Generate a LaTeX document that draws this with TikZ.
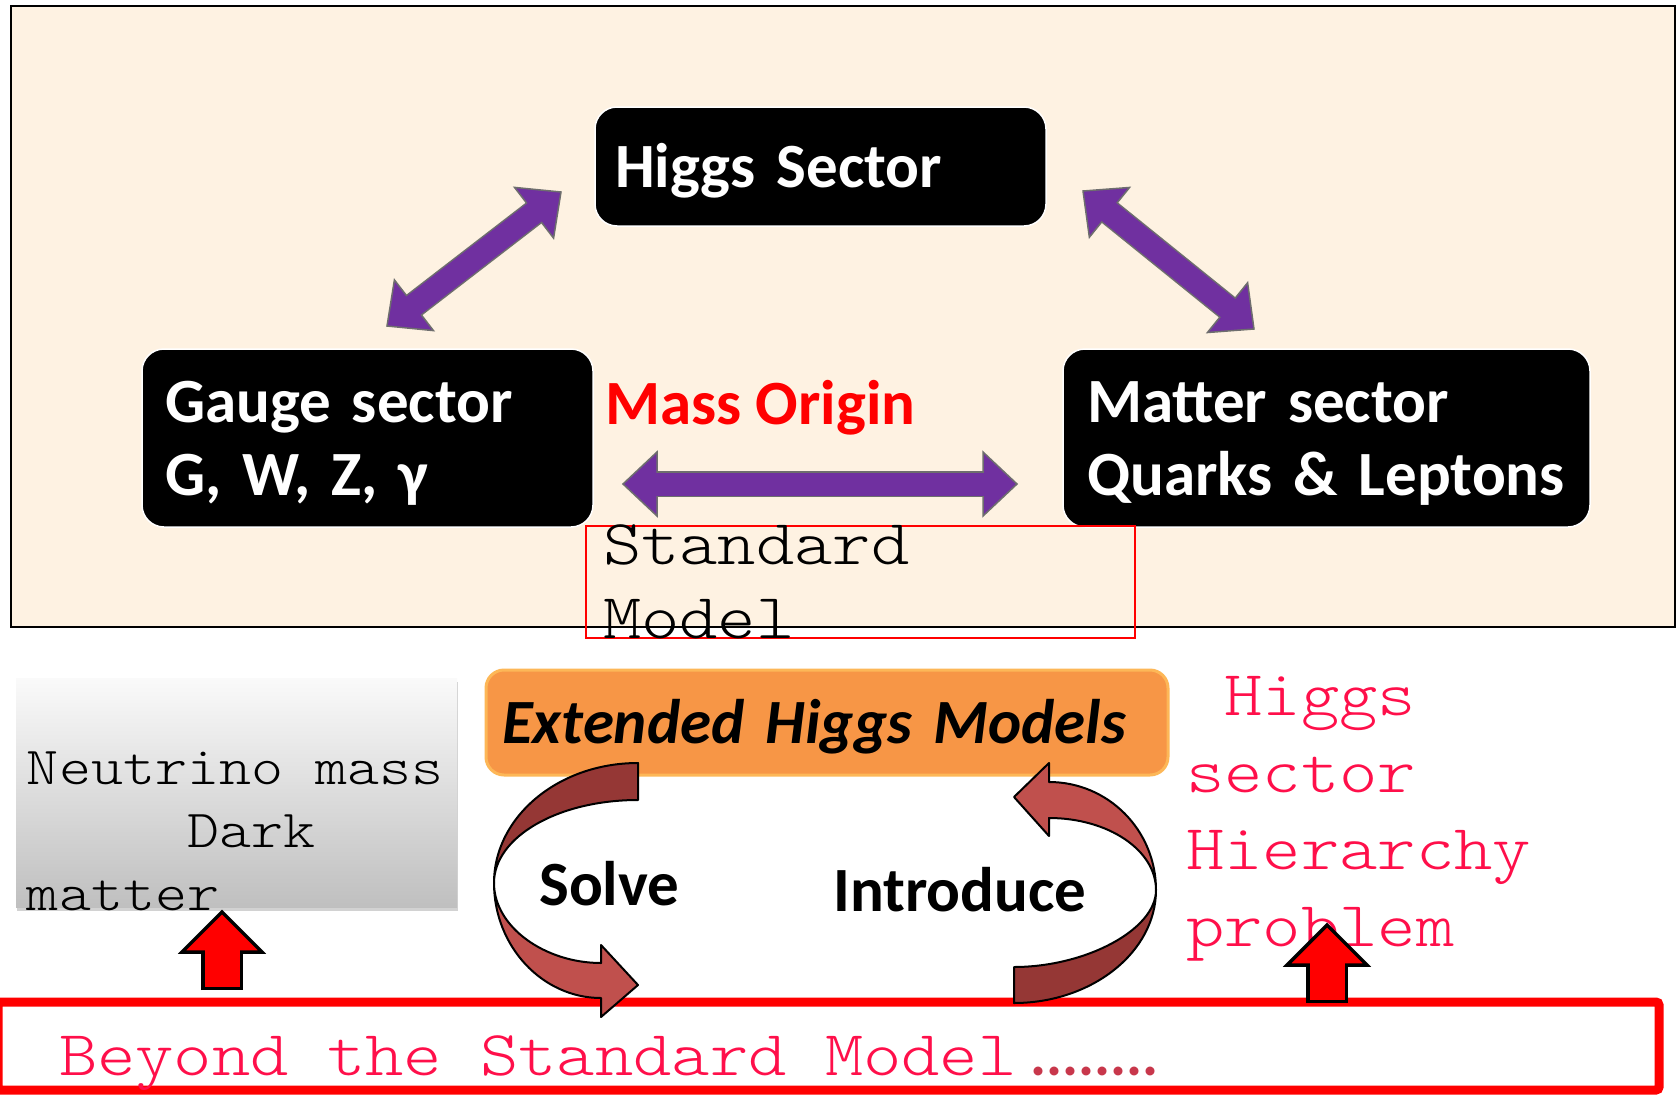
\documentclass[tikz,border=0pt]{standalone}
\usepackage{fontspec}
\setmainfont{Carlito}
\newfontfamily\mono[FakeStretch=1.14]{lmmonolt10-regular.otf}
\usetikzlibrary{decorations.markings,shadows}

\definecolor{paper}{HTML}{FEF2E2}
\definecolor{arrowfill}{HTML}{7030A0}
\definecolor{arrowedge}{HTML}{6E6E6E}
\definecolor{extfill}{HTML}{F79646}
\definecolor{extedge}{HTML}{FDB757}
\definecolor{textred}{HTML}{FF0F4A}
\definecolor{dotred}{HTML}{C8374B}
\definecolor{darkbrick}{HTML}{953735}
\definecolor{lightbrick}{HTML}{C0504D}

\tikzset{
  sans/.style={font=\fontsize{63}{73}\selectfont\bfseries},
  blackbox/.style={sans, fill=black, draw=white, line width=1.5pt, rounded corners=22pt,
    text=white, align=left, inner ysep=0pt, outer sep=0pt, anchor=base west},
  fatarrow/.style={
    postaction={draw=arrowedge, line width=26pt, shorten <=30pt, shorten >=30pt},
    postaction={decorate, decoration={markings,
      mark=at position 0 with {\filldraw[fill=arrowfill, draw=arrowedge, line width=1.5pt] (0,0) -- (34,32) -- (34,-32) -- cycle;},
      mark=at position 1 with {\filldraw[fill=arrowfill, draw=arrowedge, line width=1.5pt] (0,0) -- (-34,32) -- (-34,-32) -- cycle;}}},
    postaction={draw=arrowfill, line width=23pt, shorten <=31pt, shorten >=31pt}},
  uparrow/.style={
    postaction={draw=black, line width=42pt, shorten >=38pt},
    postaction={decorate, decoration={markings,
      mark=at position 1 with {\filldraw[fill=red, draw=black, line width=3.5pt] (0,0) -- (-40,40) -- (-40,-40) -- cycle;}}},
    postaction={draw=red, line width=35pt, shorten <=3.5pt, shorten >=36pt}},
  twist/.style={draw=black, line width=2pt, line join=round}
}
\newcommand\monosize[2]{\mono\fontsize{#1}{#2}\selectfont}
\newcommand\fixspace{\spaceskip=0.5985em\relax}

\begin{document}
\begin{tikzpicture}[x=1pt, y=-1pt]
\path[use as bounding box, fill=white] (0,0) rectangle (1679,1095);
\draw[fill=paper, line width=2.5pt] (11,6) rectangle (1675,627);

\node[blackbox, inner xsep=20pt, text width=411pt, text height=80pt, text depth=39pt] (higgs) at (595,187) {Higgs Sector};
\node[blackbox, inner xsep=23pt, text width=405pt, text height=73pt, text depth=105pt] (gauge) at (142,422) {Gauge sector\\G, W, Z, γ};
\node[blackbox, inner xsep=24pt, text width=479pt, text height=73pt, text depth=105pt] (matter) at (1063,422) {Matter sector\\Quarks \& Leptons};
\node[sans, text=red, inner sep=0pt, anchor=base west] (origin) at (605,424) {Mass Origin};

\path[fatarrow] ([xshift=19.5pt,yshift=23pt]gauge.north) -- ([xshift=-34pt,yshift=-25.5pt]higgs.west);
\path[fatarrow] ([xshift=37pt,yshift=-24.5pt]higgs.east) -- ([xshift=-72.5pt,yshift=20pt]matter.north);
\path[fatarrow] ([xshift=30pt,yshift=-46pt]gauge.east) -- ([xshift=-46pt,yshift=-46pt]matter.west);

\node[draw=red, line width=2pt, anchor=base west, inner xsep=17pt, inner ysep=0pt, outer sep=0pt,
  text width=515pt, text height=38pt, text depth=74pt, align=left,
  font=\monosize{64}{74}] (sm) at (586,564) {Standard\\Model};

\node[sans, fill=extfill, draw=extedge, line width=3pt, rounded corners=18pt, anchor=base west,
  inner xsep=16pt, inner ysep=0pt, outer sep=0pt, text width=650pt, text height=73pt, text depth=32pt,
  font=\fontsize{63}{73}\selectfont\bfseries\itshape] (ext) at (486,743) {Extended Higgs Models};

\node[top color=white!98!black, bottom color=black!25, drop shadow={opacity=0.35, shadow xshift=1pt, shadow yshift=-4pt},
  anchor=base west, inner xsep=11pt, inner ysep=0pt, outer sep=0pt, text width=419pt, text height=106pt, text depth=123pt,
  align=left, font=\monosize{53.5}{63}] (neutrino) at (16,784) {\fixspace Neutrino mass\\\phantom{xxxxx}Dark\\matter};

\node[anchor=base west, inner sep=0pt, text width=420pt, align=left, text=textred,
  font=\monosize{64}{77}] (hierarchy) at (1186,715) {\phantom{x}Higgs\\sector\\Hierarchy\\problem};

\node[draw=red, line width=9pt, rounded corners=3pt, anchor=base west, inner xsep=61pt, inner ysep=0pt, outer sep=0pt,
  text width=1539pt, text height=73pt, text depth=15pt, align=left, text=textred,
  font=\monosize{64}{74}] (beyond) at (-2,1075)
  {\fixspace Beyond the Standard Model\hspace{14pt}{\rmfamily\bfseries\fontsize{60}{60}\selectfont\color{dotred}........}};

\filldraw[twist, fill=darkbrick] (638,763) .. controls (558,763) and (494,817) .. (494,883)
  .. controls (494,837) and (558,800) .. (638,800) -- cycle;
\filldraw[twist, fill=lightbrick] (494,883) .. controls (494,946) and (542,998) .. (601,998)
  -- (601,1017) -- (638,985) -- (601,945) -- (601,963) .. controls (545,963) and (494,927) .. (494,883) -- cycle;
\filldraw[twist, fill=lightbrick] (1049,818) -- (1049,836) -- (1014,797) -- (1049,763) -- (1049,782)
  .. controls (1108,782) and (1156,830) .. (1156,890) .. controls (1156,850) and (1108,818) .. (1049,818) -- cycle;
\filldraw[twist, fill=darkbrick] (1156,890) .. controls (1156,952) and (1092,1003) .. (1014,1003)
  -- (1014,967) .. controls (1085,967) and (1156,930) .. (1156,890) -- cycle;
\node[sans, inner sep=0pt, anchor=base west] (solve) at (539,905) {Solve};
\node[sans, inner sep=0pt, anchor=base west] (introduce) at (833,911) {Introduce};

\path[uparrow] ([xshift=224pt,yshift=12pt]beyond.north west) -- ([xshift=-14.5pt,yshift=-5pt]neutrino.south);
\path[uparrow] ([xshift=1329pt,yshift=-1pt]beyond.north west) -- ([xshift=141pt,yshift=-210pt]hierarchy.base west);
\end{tikzpicture}
\end{document}
